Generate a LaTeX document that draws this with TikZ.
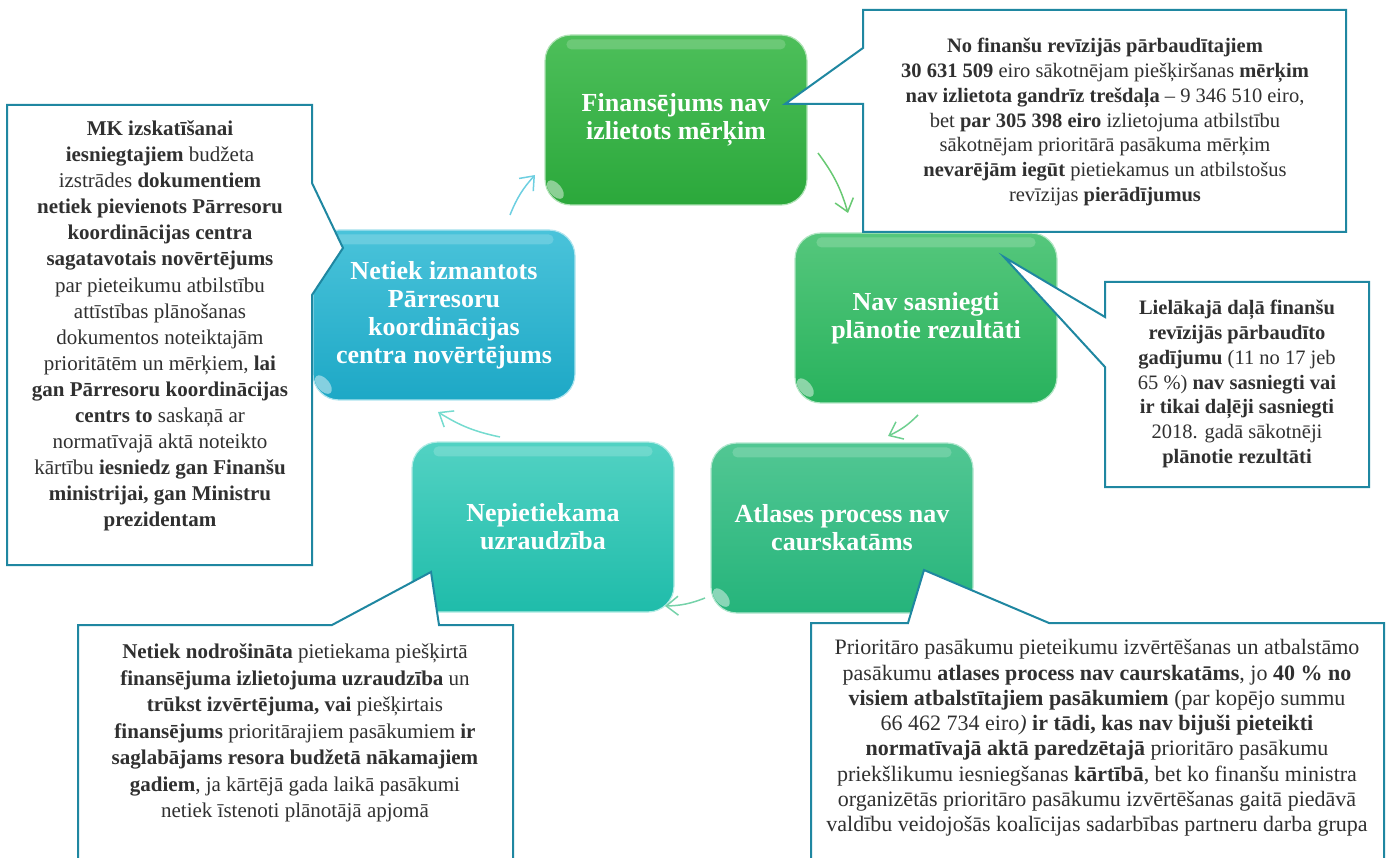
\documentclass[tikz,border=0pt]{standalone}
\usepackage{fontspec}
\setmainfont{Liberation Serif}
\usetikzlibrary{arrows.meta}

\definecolor{noteline}{HTML}{1F87A1}
\definecolor{notetext}{HTML}{303030}
\definecolor{fintop}{HTML}{4DBF5A}\definecolor{finbot}{HTML}{2BA83B}
\definecolor{navtop}{HTML}{55C77C}\definecolor{navbot}{HTML}{28B25D}
\definecolor{atltop}{HTML}{52C793}\definecolor{atlbot}{HTML}{25B47B}
\definecolor{uzrtop}{HTML}{52D2C3}\definecolor{uzrbot}{HTML}{1FBCAA}
\definecolor{pkctop}{HTML}{4AC3DA}\definecolor{pkcbot}{HTML}{1DA8C6}

\tikzset{
  stage/.style={rounded corners=26pt, minimum width=262pt, minimum height=170pt,
    align=center, text=white, line width=1.2pt,
    font=\bfseries\fontsize{26}{28}\selectfont},
  note/.style={draw=noteline, fill=white, line width=2pt, line join=miter},
  notetxt/.style={align=center, text=notetext, inner sep=0pt,
    font=\fontsize{21}{25.5}\selectfont},
  cyc/.style={line width=1.5pt, -{Straight Barb[length=12pt,width=19pt]}},
}

\begin{document}
\begin{tikzpicture}[x=1pt,y=-1pt]
\useasboundingbox (0,0) rectangle (1387,858);
\clip (0,0) rectangle (1387,858);

% cycle stages
\node[stage, top color=fintop, bottom color=finbot, draw=fintop!45!white] (fin) at (676,120) {Finansējums nav\\izlietots mērķim};
\node[stage, top color=navtop, bottom color=navbot, draw=navtop!45!white] (nav) at (926,318) {Nav sasniegti\\plānotie rezultāti};
\node[stage, top color=atltop, bottom color=atlbot, draw=atltop!45!white] (atl) at (842,528) {Atlases process nav\\caurskatāms};
\node[stage, top color=uzrtop, bottom color=uzrbot, draw=uzrtop!45!white] (uzr) at (543,527) {Nepietiekama\\uzraudzība};
\node[stage, top color=pkctop, bottom color=pkcbot, draw=pkctop!45!white] (pkc) at (444,315) {Netiek izmantots\\Pārresoru\\koordinācijas\\centra novērtējums};
\foreach \n in {fin,nav,atl,uzr,pkc}{
  \fill[white, opacity=.18, rounded corners=5pt] ([xshift=22pt,yshift=-5pt]\n.north west) rectangle ([xshift=-22pt,yshift=-15pt]\n.north east);
  \fill[white, opacity=.45] ([xshift=11pt,yshift=16pt]\n.south west) ellipse [x radius=6pt, y radius=11pt, rotate=40];
}

% callouts
\draw[note] (863,10) -- (1346,10) -- (1346,232) -- (863,232) -- (863,104) -- (785,104) -- (863,48) -- cycle;
\draw[note] (1105,282) -- (1369,282) -- (1369,487) -- (1105,487) -- (1105,367) -- (1004,257) -- (1105,317) -- cycle;
\draw[note] (7,105) -- (312,105) -- (312,183) -- (343,248) -- (312,295) -- (312,565) -- (7,565) -- cycle;
\draw[note] (78,880) -- (78,625) -- (332,625) -- (431,572) -- (439,625) -- (513,625) -- (513,880) -- cycle;
\draw[note] (811,880) -- (811,623) -- (908,623) -- (924,570) -- (1049,623) -- (1384,623) -- (1384,880) -- cycle;

\node[notetxt, font=\fontsize{20.5}{24.8}\selectfont] (finnote) at (1105,122) {%
  \textbf{No finanšu revīzijās pārbaudītajiem}\\
  \textbf{30~631~509} eiro sākotnējam piešķiršanas \textbf{mērķim}\\
  \textbf{nav izlietota gandrīz trešdaļa} -- 9~346~510 eiro,\\
  bet \textbf{par 305~398 eiro} izlietojuma atbilstību\\
  sākotnējam prioritārā pasākuma mērķim\\
  \textbf{nevarējām iegūt} pietiekamus un atbilstošus\\
  revīzijas \textbf{pierādījumus}};
\node[notetxt, font=\fontsize{20.5}{24.8}\selectfont] (navnote) at (1237,384) {%
  \textbf{Lielākajā daļā finanšu}\\
  \textbf{revīzijās pārbaudīto}\\
  \textbf{gadījumu} (11 no 17 jeb\\
  65~\%) \textbf{nav sasniegti vai}\\
  \textbf{ir tikai daļēji sasniegti}\\
  2018. gadā sākotnēji\\
  \textbf{plānotie rezultāti}};
\node[notetxt, font=\fontsize{21}{26.1}\selectfont] (pkcnote) at (160,326) {%
  \textbf{MK izskatīšanai}\\
  \textbf{iesniegtajiem} budžeta\\
  izstrādes \textbf{dokumentiem}\\
  \textbf{netiek pievienots Pārresoru}\\
  \textbf{koordinācijas centra}\\
  \textbf{sagatavotais novērtējums}\\
  par pieteikumu atbilstību\\
  attīstības plānošanas\\
  dokumentos noteiktajām\\
  prioritātēm un mērķiem, \textbf{lai}\\
  \textbf{gan Pārresoru koordinācijas}\\
  \textbf{centrs to} saskaņā ar\\
  normatīvajā aktā noteikto\\
  kārtību \textbf{iesniedz gan Finanšu}\\
  \textbf{ministrijai, gan Ministru}\\
  \textbf{prezidentam}};
\node[notetxt, font=\fontsize{21}{26.5}\selectfont] (uzrnote) at (295,733) {%
  \textbf{Netiek nodrošināta} pietiekama piešķirtā\\
  \textbf{finansējuma izlietojuma uzraudzība} un\\
  \textbf{trūkst izvērtējuma, vai} piešķirtais\\
  \textbf{finansējums} prioritārajiem pasākumiem \textbf{ir}\\
  \textbf{saglabājams resora budžetā nākamajiem}\\
  \textbf{gadiem}, ja kārtējā gada laikā pasākumi\\
  netiek īstenoti plānotājā apjomā};
\node[notetxt, font=\fontsize{22}{25.3}\selectfont] (atlnote) at (1097,738) {%
  Prioritāro pasākumu pieteikumu izvērtēšanas un atbalstāmo\\
  pasākumu \textbf{atlases process nav caurskatāms}, jo \textbf{40~\% no}\\
  \textbf{visiem atbalstītajiem pasākumiem} (par kopējo summu\\
  66~462~734 eiro\textit{)} \textbf{ir tādi, kas nav bijuši pieteikti}\\
  \textbf{normatīvajā aktā paredzētajā} prioritāro pasākumu\\
  priekšlikumu iesniegšanas \textbf{kārtībā}, bet ko finanšu ministra\\
  organizētās prioritāro pasākumu izvērtēšanas gaitā piedāvā\\
  valdību veidojošās koalīcijas sadarbības partneru darba grupa};

% cycle arrows
\coordinate (c1s) at (818,153); \coordinate (c1e) at (848,213);
\coordinate (c2s) at (918,415); \coordinate (c2e) at (888,436);
\coordinate (c3s) at (705,598); \coordinate (c3e) at (665,606);
\coordinate (c4s) at (500,437); \coordinate (c4e) at (438,412);
\coordinate (c5s) at (510,215); \coordinate (c5e) at (535,175);
\draw[cyc, draw=fintop!85!white] (c1s) to[bend left=10] (c1e);
\draw[cyc, draw=navtop!85!white] (c2s) to[bend left=10] (c2e);
\draw[cyc, draw=atltop!80!white] (c3s) to[bend left=10] (c3e);
\draw[cyc, draw=uzrtop!80!white] (c4s) to[bend left=10] (c4e);
\draw[cyc, draw=pkctop!80!white] (c5s) to[bend left=10] (c5e);
\end{tikzpicture}
\end{document}
